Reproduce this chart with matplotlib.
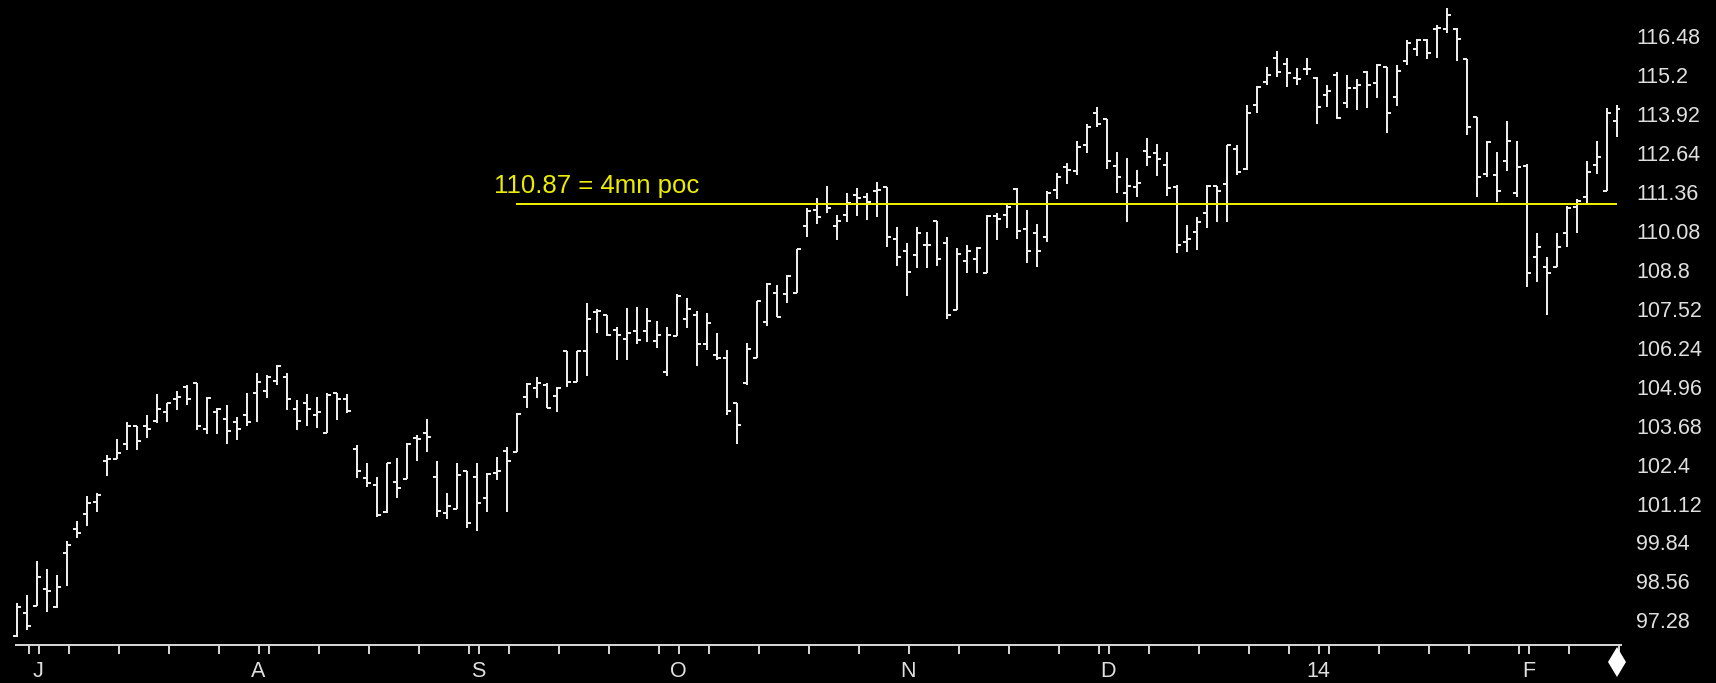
import matplotlib
matplotlib.use('Agg')
import matplotlib.pyplot as plt
from matplotlib import font_manager
from matplotlib.transforms import ScaledTranslation

# ---------------- data (daily OHLC, 27 Jun 2013 .. 14 Feb 2014) ----------------
opens = [96.70, 97.43, 97.67, 98.22, 97.65, 99.40, 100.19, 100.71, 101.10, 102.42,
         102.50, 103.00, 103.59, 103.59, 103.75, 104.06, 104.46, 104.86, 104.99, 103.48,
         104.03, 103.81, 103.73, 103.95, 104.66, 104.74, 105.07, 105.19, 104.14, 104.35,
         103.95, 103.35, 104.66, 104.46, 102.83, 101.87, 101.65, 100.75, 101.73, 101.84,
         103.18, 103.35, 101.90, 100.72, 100.85, 102.09, 101.90, 101.21, 102.05, 102.77,
         102.74, 104.55, 104.82, 104.93, 104.58, 106.06, 105.04, 106.06, 107.34, 107.23,
         106.74, 106.43, 106.71, 106.71, 106.38, 105.37, 106.54, 107.09, 107.23, 106.28,
         105.92, 105.81, 104.35, 104.99, 105.83, 107.01, 107.95, 107.91, 107.94, 110.17,
         110.68, 110.88, 110.17, 110.52, 111.18, 111.10, 111.31, 111.43, 109.72, 109.34,
         109.20, 109.53, 110.33, 109.59, 107.40, 108.99, 109.06, 108.60, 110.49, 110.52,
         111.36, 110.05, 109.92, 109.81, 111.34, 112.11, 111.97, 112.82, 113.88, 113.66,
         112.13, 111.23, 111.45, 112.63, 112.54, 112.16, 111.43, 109.64, 109.97, 110.57,
         111.47, 111.53, 112.68, 112.02, 114.13, 114.87, 115.67, 115.48, 115.01, 115.32,
         115.01, 114.46, 115.12, 114.19, 114.68, 115.23, 114.84, 115.39, 114.38, 115.58,
         115.96, 116.27, 116.62, 116.62, 116.62, 115.63, 113.73, 111.87, 111.83, 112.29,
         111.23, 112.13, 109.13, 108.82, 108.80, 109.92, 110.79, 111.10, 112.16, 111.29,
         113.62]
highs = [97.76, 98.04, 99.16, 98.89, 98.69, 99.81, 100.48, 101.27, 101.38, 102.64,
         103.16, 103.70, 103.59, 103.95, 104.63, 104.35, 104.74, 104.93, 104.99, 104.55,
         104.17, 104.28, 103.89, 104.68, 105.34, 105.26, 105.59, 105.34, 104.44, 104.63,
         104.55, 104.66, 104.68, 104.63, 102.96, 102.38, 101.92, 102.38, 102.53, 103.04,
         103.29, 103.82, 102.45, 101.40, 102.38, 102.12, 102.38, 102.05, 102.58, 102.91,
         104.00, 104.99, 105.21, 105.01, 104.85, 106.06, 106.06, 107.64, 107.42, 107.23,
         106.83, 107.45, 107.51, 107.45, 107.04, 106.85, 107.91, 107.78, 107.37, 107.31,
         106.65, 106.08, 104.35, 106.30, 107.69, 108.27, 108.22, 108.55, 109.39, 110.74,
         111.07, 111.47, 110.52, 111.25, 111.39, 111.25, 111.59, 111.45, 110.13, 109.61,
         110.13, 109.97, 110.33, 109.81, 109.42, 109.53, 109.48, 110.52, 110.59, 110.92,
         111.39, 110.68, 110.22, 111.31, 111.91, 112.24, 112.96, 113.50, 114.08, 113.66,
         112.57, 112.38, 112.00, 113.04, 112.84, 112.58, 111.50, 110.19, 110.46, 111.50,
         111.47, 112.82, 112.82, 114.13, 114.74, 115.39, 115.92, 115.67, 115.34, 115.67,
         115.06, 114.79, 115.20, 115.12, 114.98, 115.26, 115.48, 115.39, 115.45, 116.25,
         116.29, 116.29, 116.76, 117.31, 116.67, 115.63, 113.75, 112.96, 112.57, 113.62,
         112.96, 112.19, 109.94, 109.15, 109.94, 110.82, 111.03, 112.29, 112.96, 114.02,
         114.13]
lows = [96.65, 96.89, 97.67, 97.47, 97.60, 98.33, 99.92, 100.30, 100.75, 101.94,
        102.50, 102.80, 102.80, 103.18, 103.68, 103.73, 104.11, 104.28, 103.46, 103.32,
        103.32, 103.00, 103.13, 103.59, 103.73, 104.52, 104.93, 104.11, 103.46, 103.59,
        103.51, 103.35, 103.78, 104.00, 101.89, 101.57, 100.58, 100.72, 101.21, 101.84,
        102.42, 102.74, 100.58, 100.52, 100.85, 100.25, 100.12, 100.77, 101.81, 100.77,
        102.74, 104.19, 104.52, 104.19, 104.04, 104.85, 105.04, 105.23, 106.63, 106.54,
        105.76, 105.76, 106.28, 106.36, 106.14, 105.23, 106.54, 106.80, 105.56, 106.08,
        105.76, 103.93, 103.00, 104.93, 105.83, 106.87, 107.18, 107.62, 107.94, 109.78,
        110.22, 110.59, 109.70, 110.30, 110.48, 110.35, 110.44, 109.46, 108.85, 107.86,
        108.77, 108.79, 108.85, 107.09, 107.40, 108.60, 108.60, 108.60, 109.70, 110.10,
        109.72, 108.93, 108.80, 109.64, 111.03, 111.54, 111.83, 112.54, 113.42, 112.02,
        111.23, 110.30, 111.10, 112.13, 111.80, 111.14, 109.26, 109.31, 109.37, 110.10,
        110.30, 110.30, 111.83, 112.00, 113.86, 114.79, 115.04, 114.71, 114.79, 115.12,
        113.51, 114.08, 113.66, 114.02, 113.97, 114.02, 114.35, 113.20, 114.10, 115.45,
        115.74, 115.63, 115.69, 116.49, 115.56, 113.15, 111.10, 111.78, 110.96, 111.97,
        111.10, 108.14, 108.33, 107.23, 108.80, 109.46, 109.92, 110.88, 111.87, 111.29,
        113.07]
closes = [97.63, 97.02, 98.61, 98.17, 98.29, 99.66, 100.06, 101.05, 101.31, 102.50,
          102.69, 103.59, 103.10, 103.48, 104.14, 104.33, 104.55, 104.46, 103.59, 104.52,
          104.14, 103.42, 103.48, 103.70, 105.04, 105.21, 105.54, 104.46, 103.75, 104.14,
          104.06, 104.61, 104.46, 104.08, 102.09, 101.70, 100.66, 102.36, 101.54, 102.99,
          103.15, 103.22, 100.80, 100.96, 101.98, 100.39, 101.05, 102.00, 102.11, 102.45,
          103.97, 104.96, 105.01, 104.19, 104.82, 105.04, 106.06, 107.10, 107.37, 106.58,
          106.58, 106.65, 106.41, 107.04, 106.58, 106.58, 107.84, 107.42, 106.28, 106.98,
          105.81, 104.08, 103.62, 106.12, 107.69, 108.24, 107.18, 108.52, 109.39, 110.65,
          110.46, 110.74, 110.33, 110.90, 111.07, 110.96, 111.34, 109.81, 109.15, 108.66,
          109.94, 109.53, 109.07, 107.23, 109.24, 109.35, 109.42, 110.49, 110.38, 110.79,
          110.00, 109.34, 109.34, 111.23, 111.76, 112.00, 112.76, 113.42, 113.50, 112.29,
          111.78, 111.47, 111.56, 112.41, 112.35, 111.39, 109.53, 109.72, 110.30, 111.47,
          111.29, 112.80, 111.94, 113.86, 114.71, 115.12, 115.23, 115.17, 114.98, 115.32,
          114.06, 114.60, 113.70, 114.68, 114.79, 114.79, 115.45, 113.86, 115.26, 116.16,
          116.27, 115.85, 116.65, 117.09, 116.29, 113.42, 111.76, 112.93, 111.29, 112.96,
          112.11, 108.60, 109.46, 108.60, 109.46, 110.74, 110.98, 111.94, 112.43, 113.86,
          113.99]

month_labels = ['J', 'A', 'S', 'O', 'N', 'D', '14', 'F']
month_bar = [2, 24, 46, 66, 89, 109, 130, 151]          # first session of each month
week_bar = [1, 5, 10, 15, 20, 25, 30, 35, 40, 45, 49, 54, 59, 64, 69, 74, 79, 84,
            89, 94, 99, 104, 108, 113, 118, 123, 127, 131, 136, 141, 145, 150, 155, 160]
ytick_values = [97.28, 98.56, 99.84, 101.12, 102.40, 103.68, 104.96, 106.24,
                107.52, 108.80, 110.08, 111.36, 112.64, 113.92, 115.20, 116.48]
ytick_labels = ['97.28', '98.56', '99.84', '101.12', '102.4', '103.68', '104.96', '106.24',
                '107.52', '108.8', '110.08', '111.36', '112.64', '113.92', '115.2', '116.48']
poc_value = 110.87
poc_text = '110.87 = 4mn poc'
poc_start_bar = 50
poc_end_bar = 160

# ---------------- styling ----------------
names = {f.name for f in font_manager.fontManager.ttflist}
if 'Liberation Sans Narrow' in names:
    axis_font, axis_size = 'Liberation Sans Narrow', 18
else:
    axis_font, axis_size = 'Liberation Sans', 15.5
label_font = 'Liberation Sans' if 'Liberation Sans' in names else 'DejaVu Sans'

W, H = 1716, 683
fig = plt.figure(figsize=(W / 100, H / 100), dpi=100, facecolor='black')
ax = fig.add_axes([0, 38 / H, 1620 / W, 645 / H])
ax.set_facecolor('black')
ax.set_xlim(-1.65, 160.35)
ax.set_ylim(96.39, 117.58)

bar_color = '#ececec'
axis_color = '#d4d4d4'
text_color = '#e0e0e0'
yellow = '#ecec00'
lw = 1.44

x = list(range(len(opens)))
ax.vlines(x, lows, highs, colors=bar_color, linewidth=lw)
ax.hlines(opens, [i - 0.4 for i in x], x, colors=bar_color, linewidth=lw)
ax.hlines(closes, x, [i + 0.4 for i in x], colors=bar_color, linewidth=lw)

# point-of-control line and label
ax.hlines(poc_value, poc_start_bar - 0.05, poc_end_bar + 0.05, colors=yellow, linewidth=lw)
ax.text(47.75, poc_value + 0.38, poc_text, color=yellow, fontsize=18.5,
        family=label_font, ha='left', va='baseline')

# axes decoration
for s in ['top', 'left', 'right']:
    ax.spines[s].set_visible(False)
ax.spines['bottom'].set_color(axis_color)
ax.spines['bottom'].set_linewidth(lw)
ax.spines['bottom'].set_bounds(-0.05, 160.4)
ticks = sorted(set(week_bar + month_bar))
ax.set_xticks([t + 0.2 for t in ticks])
ax.tick_params(axis='x', direction='out', length=6.5, width=lw, colors=axis_color,
               labelbottom=False)
ax.set_yticks([])

xt = ax.get_xaxis_transform()
for lab, b in zip(month_labels, month_bar):
    ax.text(b + 0.2, -31.7 / 645, lab, transform=xt, color=text_color,
            fontsize=axis_size, family=axis_font, ha='center', va='baseline')

yt = ax.get_yaxis_transform() + ScaledTranslation(0, -10.5 / 100, fig.dpi_scale_trans)
for v, lab in zip(ytick_values, ytick_labels):
    ax.text(1636 / 1620, v, lab, transform=yt, color=text_color,
            fontsize=axis_size, family=axis_font, ha='left', va='baseline')

# scroll marker diamond at the end of the time axis
ax.plot([160.05], [-17 / 645], marker='d', ms=15.3, color='white', mew=0,
        transform=xt, clip_on=False)

fig.savefig('out.png', dpi=100, facecolor='black')
